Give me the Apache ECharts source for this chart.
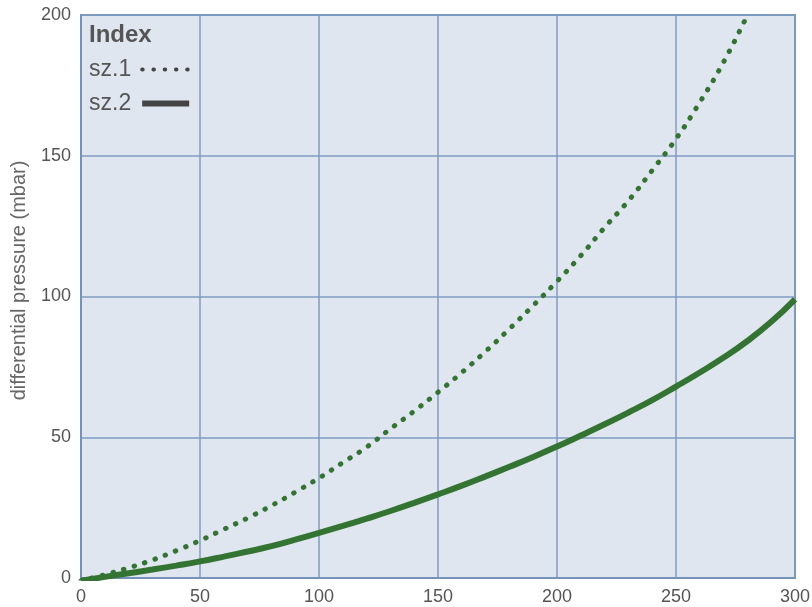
<!DOCTYPE html>
<html>
<head>
<meta charset="utf-8">
<script src="https://cdn.jsdelivr.net/npm/echarts@6/dist/echarts.min.js"></script>
<style>
    html, body { margin: 0; padding: 0; background: #ffffff; }
    #chart-container { width: 812px; height: 607px; }
</style>
</head>
<body>
<div id="chart-container"></div>
<script>
// values
const xs1 = [0, 10, 20, 30, 40, 50, 60, 70, 80, 90, 100, 110, 120, 130, 140, 150, 160, 170, 180, 190, 200, 210, 220, 230, 240, 250, 260, 270, 280];
const sz1 = [-1, 1.2, 3.6, 6.4, 9.7, 13.3, 17.3, 21.3, 25.7, 30.5, 35.5, 41, 46.5, 53, 59.3, 66, 73, 80.5, 88.5, 96.8, 105.4, 114.5, 124.5, 134, 144.8, 156, 169, 183.3, 200];

const xs2 = [0, 10, 20, 30, 40, 50, 60, 70, 80, 90, 100, 110, 120, 130, 140, 150, 160, 170, 180, 190, 200, 210, 220, 230, 240, 250, 260, 270, 280, 290, 300];
const sz2 = [-1, 0.4, 1.7, 3, 4.4, 5.9, 7.6, 9.4, 11.3, 13.6, 16, 18.5, 21.1, 23.8, 26.7, 29.7, 32.8, 36.1, 39.5, 43, 46.7, 50.6, 54.6, 58.8, 63.2, 68, 73, 78.3, 84.2, 91, 99];

const xTicks = [0, 50, 100, 150, 200, 250, 300];
const yTicks = [0, 50, 100, 150, 200];

const seriesNames = ['sz.1', 'sz.2'];

var dom = document.getElementById('chart-container');
var myChart = echarts.init(dom, null, { renderer: 'canvas' });

var green = '#347433';
var textColor = '#555555';
var fontFam = '"Liberation Sans", Arial, sans-serif';

var option = {
    animation: false,
    title: {
        text: 'Index',
        left: 84,
        top: 18,
        textStyle: { fontSize: 24, fontWeight: 'bold', color: textColor, fontFamily: fontFam }
    },
    legend: {
        orient: 'vertical',
        left: 84,
        top: 53,
        align: 'right',
        itemWidth: 47,
        itemHeight: 14,
        itemGap: 11,
        itemStyle: { opacity: 0 },
        textStyle: { fontSize: 23, color: textColor, fontFamily: fontFam, padding: [0, 6, 0, 0] },
        data: [
            {
                name: seriesNames[0],
                lineStyle: { color: '#444444', width: 4, type: [0.5, 10.75], cap: 'round' }
            },
            {
                name: seriesNames[1],
                lineStyle: { color: '#444444', width: 6, type: 'solid' }
            }
        ]
    },
    grid: {
        left: 81,
        right: 17,
        top: 15,
        bottom: 29,
        outerBoundsMode: 'none',
        show: true,
        backgroundColor: '#e0e6ef',
        borderColor: '#7592b8',
        borderWidth: 2
    },
    xAxis: {
        type: 'value',
        min: xTicks[0],
        max: xTicks[xTicks.length - 1],
        interval: 50,
        axisLine: { lineStyle: { color: '#7592b8', width: 2 } },
        axisTick: { show: false },
        axisLabel: { fontSize: 18, color: textColor, fontFamily: fontFam, margin: 10 },
        splitLine: { lineStyle: { color: '#7f9bc0', width: 1.5 } }
    },
    yAxis: {
        type: 'value',
        min: yTicks[0],
        max: yTicks[yTicks.length - 1],
        interval: 50,
        name: 'differential pressure (mbar)',
        nameLocation: 'middle',
        nameGap: 52,
        nameTextStyle: { fontSize: 20, color: '#666666', fontFamily: fontFam, padding: [0, 0, 0, 32] },
        axisLine: { show: true, lineStyle: { color: '#7592b8', width: 2 } },
        axisTick: { show: false },
        axisLabel: { fontSize: 18, color: textColor, fontFamily: fontFam, margin: 10 },
        splitLine: { lineStyle: { color: '#7f9bc0', width: 1.5 } }
    },
    series: [
        {
            name: seriesNames[0],
            type: 'line',
            smooth: true,
            symbol: 'none',
            data: xs1.map((x, i) => [x, sz1[i]]),
            lineStyle: { color: green, width: 5, type: [0.5, 10.5], cap: 'round' },
            itemStyle: { color: green }
        },
        {
            name: seriesNames[1],
            type: 'line',
            smooth: true,
            symbol: 'none',
            data: xs2.map((x, i) => [x, sz2[i]]),
            lineStyle: { color: green, width: 6 },
            itemStyle: { color: green }
        }
    ]
};

myChart.setOption(option);
window.addEventListener('resize', myChart.resize);
</script>
</body>
</html>
